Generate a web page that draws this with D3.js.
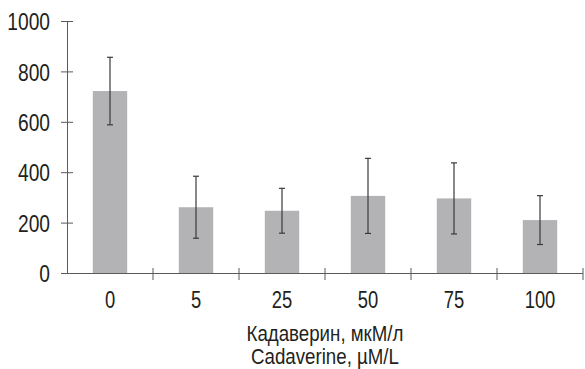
<!DOCTYPE html>
<html>
<head>
<meta charset="utf-8">
<script src="https://cdn.jsdelivr.net/npm/d3@7"></script>
<style>
  body { margin: 0; background: #fff; }
  text { font-family: "Liberation Sans Narrow", "Arial Narrow", "Liberation Sans", Arial, sans-serif; fill: #231f20; }
</style>
</head>
<body>
<div id="chart"></div>
<script>
// data
const categories = ['0', '5', '25', '50', '75', '100'];
const means = [722, 261, 247, 306, 296, 210];
const errors = [134, 123, 89, 149, 141, 97];
const yTicks = [0, 200, 400, 600, 800, 1000];
const titleLines = ['Кадаверин, мкМ/л', 'Cadaverine, µM/L'];

const width = 585, height = 369;
const margin = { top: 21, right: 2, bottom: 96, left: 67 };
const innerW = width - margin.left - margin.right;
const innerH = height - margin.top - margin.bottom;
const narrow = 0.8; // fallback font is wider than the narrow face in the picture

const svg = d3.select('#chart').append('svg')
  .attr('width', width)
  .attr('height', height);

const g = svg.append('g')
  .attr('transform', 'translate(' + margin.left + ',' + margin.top + ')');

const x = d3.scaleBand()
  .domain(categories)
  .range([0, innerW])
  .padding(0);

const y = d3.scaleLinear()
  .domain([0, 1000])
  .range([innerH, 0]);

const barW = x.bandwidth() * 0.4;
const axisColor = '#5a5a5c';

// bars
g.selectAll('.bar')
  .data(categories)
  .enter().append('rect')
  .attr('class', 'bar')
  .attr('x', d => x(d) + (x.bandwidth() - barW) / 2)
  .attr('y', (d, i) => y(means[i]))
  .attr('width', barW)
  .attr('height', (d, i) => innerH - y(means[i]))
  .attr('fill', '#b3b3b6');

// error bars
const eb = g.selectAll('.err')
  .data(categories)
  .enter().append('g')
  .attr('class', 'err')
  .attr('stroke', '#3a3a3c')
  .attr('stroke-width', 1.2);

eb.append('line')
  .attr('x1', d => x(d) + x.bandwidth() / 2)
  .attr('x2', d => x(d) + x.bandwidth() / 2)
  .attr('y1', (d, i) => y(means[i] + errors[i]))
  .attr('y2', (d, i) => y(means[i] - errors[i]));

[1, -1].forEach(s => {
  eb.append('line')
    .attr('x1', d => x(d) + x.bandwidth() / 2 - 3)
    .attr('x2', d => x(d) + x.bandwidth() / 2 + 3)
    .attr('y1', (d, i) => y(means[i] + s * errors[i]))
    .attr('y2', (d, i) => y(means[i] + s * errors[i]));
});

// y axis
const yAxis = g.append('g')
  .call(d3.axisLeft(y).tickValues(yTicks).tickFormat(d3.format('d')).tickSize(6).tickSizeOuter(0));
yAxis.selectAll('.tick line').attr('x2', 6).attr('x1', -6);
yAxis.select('.domain').attr('d', 'M0.5,0V' + innerH);
yAxis.selectAll('line, path').attr('stroke', axisColor);
yAxis.selectAll('text')
  .attr('font-size', 24)
  .attr('font-family', null)
  .attr('x', 0)
  .attr('dy', '0.36em')
  .attr('transform', 'translate(-17,0) scale(' + narrow + ',1)');

// x axis
const xAxis = g.append('g')
  .attr('transform', 'translate(0,' + innerH + ')')
  .call(d3.axisBottom(x).tickSize(0).tickPadding(19).tickSizeOuter(0));
xAxis.select('.domain').attr('d', 'M0,0.5H' + innerW);
xAxis.selectAll('line, path').attr('stroke', axisColor);
xAxis.selectAll('text')
  .attr('font-size', 23)
  .attr('font-family', null)
  .attr('transform', 'scale(' + narrow + ',1)');

// boundary ticks between categories
g.append('g')
  .attr('transform', 'translate(0,' + innerH + ')')
  .selectAll('line')
  .data(categories)
  .enter().append('line')
  .attr('x1', d => x(d) + x.bandwidth())
  .attr('x2', d => x(d) + x.bandwidth())
  .attr('y1', -5)
  .attr('y2', 7)
  .attr('stroke', axisColor);

// axis title
svg.append('g')
  .selectAll('text')
  .data(titleLines)
  .enter().append('text')
  .attr('transform', (d, i) => 'translate(' + (margin.left + innerW / 2) + ',' + (341 + i * 23) + ') scale(0.85,1)')
  .attr('text-anchor', 'middle')
  .attr('font-size', 22)
  .text(d => d);
</script>
</body>
</html>
